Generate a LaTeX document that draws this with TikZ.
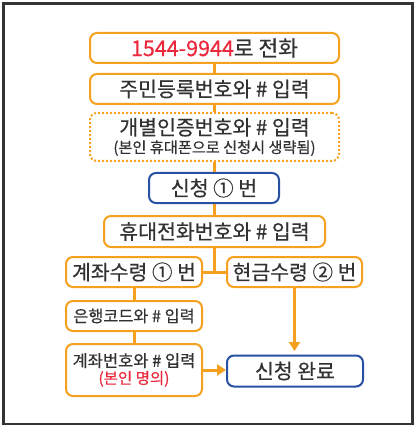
\documentclass[tikz,border=0pt]{standalone}
\usepackage{fontspec}
\setmainfont{Noto Sans CJK KR}[FakeBold=0.5]
\usetikzlibrary{arrows.meta}
\definecolor{org}{RGB}{245,160,30}
\definecolor{blu}{RGB}{40,80,165}
\definecolor{rd}{RGB}{235,40,60}
\definecolor{txt}{RGB}{50,50,50}
\tikzset{
  box/.style={draw=org, line width=2pt, rounded corners=7pt, inner sep=0pt, align=center, text=txt, font=\fontsize{20.5}{22}\selectfont},
  bbox/.style={box, draw=blu},
  conn/.style={draw=org, line width=3pt},
  arr/.style={conn, -{Triangle[length=9pt,width=11pt]}},
}
\begin{document}
\begin{tikzpicture}[x=1pt,y=-1pt]
\useasboundingbox (0,0) rectangle (417,430);
\draw[line width=2.2pt, draw=black!80] (3.5,3.5) rectangle (412.5,424);
\node[box, minimum width=249, minimum height=30, font=\fontsize{21.5}{23}\selectfont] (b1) at (214.5,48) {\textcolor{rd}{1544-9944}로 전화};
\node[box, minimum width=249, minimum height=30] (b2) at (214.5,89) {주민등록번호와 \# 입력};
\node[box, dotted, minimum width=249, minimum height=48] (b3) at (214.5,137) {개별인증번호와 \# 입력\\[-4pt]{\fontsize{15.2}{16}\selectfont (본인 휴대폰으로 신청시 생략됨)}};
\node[bbox, minimum width=130, minimum height=30] (b4) at (214,188) {신청 ① 번};
\node[box, minimum width=221, minimum height=31] (b5) at (214.5,231.5) {휴대전화번호와 \# 입력};
\node[box, minimum width=136, minimum height=30] (b6) at (134,272) {계좌수령 ① 번};
\node[box, minimum width=135, minimum height=30] (b7) at (294.5,272) {현금수령 ② 번};
\node[box, minimum width=136, minimum height=30, font=\fontsize{16.3}{18}\selectfont] (b8) at (134,316) {은행코드와 \# 입력};
\node[box, minimum width=136, minimum height=52, font=\fontsize{16.5}{18}\selectfont] (b9) at (134,370) {계좌번호와 \# 입력\\[-1pt]{\fontsize{15.5}{16}\selectfont\textcolor{rd}{(본인 명의)}}};
\node[bbox, minimum width=136, minimum height=31] (b10) at (295,371) {신청 완료};
\coordinate (j) at (214.5,272);
\coordinate (t) at (294.5,351);
\draw[conn] (b1.south) -- (b2.north);
\draw[conn] (b2.south) -- (b3.north);
\draw[conn] (b3.south) -- (b4.north -| b3.south);
\draw[conn] (b4.south -| b5.north) -- (b5.north);
\draw[conn] (b5.south) -- (j);
\draw[conn] (b6.east) -- (b7.west);
\draw[conn] (b6.south) -- (b8.north);
\draw[conn] (b8.south) -- (b9.north);
\draw[arr] (b7.south) -- (t);
\draw[arr] (b9.east) -- (b9.east -| b10.west);
\end{tikzpicture}
\end{document}
